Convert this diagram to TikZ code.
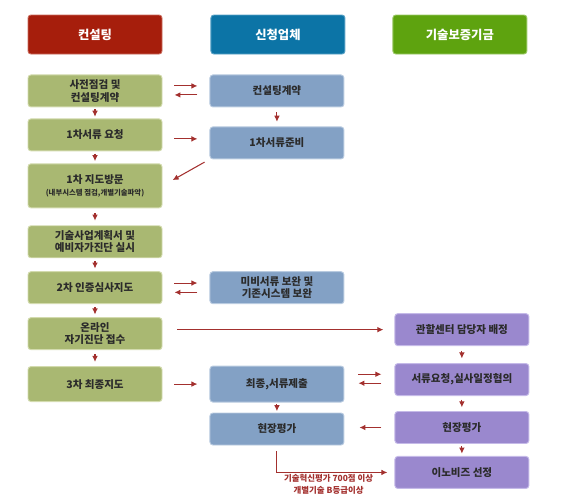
\documentclass[tikz,border=0pt]{standalone}
\usepackage{fontspec}
\setmainfont{Noto Sans CJK KR}
\usetikzlibrary{arrows.meta,positioning}

\definecolor{headred}{HTML}{A61E0C}
\definecolor{headredline}{HTML}{C96A5C}
\definecolor{headblue}{HTML}{0C74A6}
\definecolor{headblueline}{HTML}{5AA2C6}
\definecolor{headgreen}{HTML}{5EA30F}
\definecolor{headgreenline}{HTML}{9BC867}
\definecolor{consfill}{HTML}{A9B872}
\definecolor{consline}{HTML}{D3DBAE}
\definecolor{firmfill}{HTML}{83A1C5}
\definecolor{firmline}{HTML}{B9CBE0}
\definecolor{kibofill}{HTML}{9A88CE}
\definecolor{kiboline}{HTML}{C5BAE8}
\definecolor{arrowred}{HTML}{A3302E}
\definecolor{boxtext}{HTML}{2B2B2B}

\begin{document}
\begin{tikzpicture}[
  box/.style={draw, line width=0.8pt, rounded corners=2.5pt, align=center, minimum width=4.02cm, minimum height=0.96cm, inner sep=1pt, font=\fontsize{9}{10.5}\selectfont\bfseries, text=boxtext},
  cons/.style={box, fill=consfill, draw=consline},
  firm/.style={box, fill=firmfill, draw=firmline},
  kibo/.style={box, fill=kibofill, draw=kiboline},
  head/.style={box, minimum height=1.17cm, text=white, font=\fontsize{10.5}{12}\selectfont\bfseries},
  arrow/.style={-{Latex[length=1.8mm,width=1.7mm]}, draw=arrowred, line width=0.9pt},
  pad/.style={shorten <=#1, shorten >=#1},
  note/.style={align=center, text=arrowred, inner sep=1.5pt, font=\fontsize{7.2}{9.5}\selectfont\bfseries}
]
\useasboundingbox (0,0) rectangle (17.01,-15);

% column heads
\node[head, fill=headred, draw=headredline] (hcons) at (2.85,-1.035) {컨설팅};
\node[head, fill=headblue, draw=headblueline, right=1.44cm of hcons] (hfirm) {신청업체};
\node[head, fill=headgreen, draw=headgreenline, right=1.41cm of hfirm] (hkibo) {기술보증기금};

% consulting
\node[cons, below=0.6cm of hcons] (precheck) {사전점검 및\\컨설팅계약};
\node[cons, below=0.33cm of precheck] (docreq) {1차서류 요청};
\node[cons, below=0.36cm of docreq, minimum height=1.32cm] (visit) {1차 지도방문\\{\fontsize{6.3}{8}\selectfont(내부시스템 점검,개별기술파악)}};
\node[cons, below=0.51cm of visit] (plan) {기술사업계획서 및\\예비자가진단 실시};
\node[cons, below=0.39cm of plan] (review) {2차 인증심사지도};
\node[cons, below=0.39cm of review] (online) {온라인\\자기진단 접수};
\node[cons, below=0.48cm of online, minimum height=1.05cm] (final) {3차 최종지도};

% applicant
\node[firm, right=1.41cm of precheck] (contract) {컨설팅계약};
\node[firm, below=0.57cm of contract] (docprep) {1차서류준비};
\node[firm, right=1.41cm of review] (supplement) {미비서류 보완 및\\기존시스템 보완};
\node[firm, right=1.41cm of final, minimum height=1.08cm] (submit) {최종,서류제출};
\node[firm, below=0.30cm of submit] (fieldfirm) {현장평가};

% fund
\node[kibo, right=1.5cm of submit, yshift=0.135cm] (schedule) {서류요청,실사일정협의};
\node[kibo, above=0.51cm of schedule] (assign) {관할센터 담당자 배정};
\node[kibo, below=0.45cm of schedule] (fieldkibo) {현장평가};
\node[kibo, below=0.36cm of fieldkibo] (select) {이노비즈 선정};

% consulting flow
\draw[arrow, pad=0.05cm] (precheck) -- (docreq);
\draw[arrow, pad=0.065cm] (docreq) -- (visit);
\draw[arrow, pad=0.14cm] (visit) -- (plan);
\draw[arrow, pad=0.08cm] (plan) -- (review);
\draw[arrow, pad=0.08cm] (review) -- (online);
\draw[arrow, pad=0.125cm] (online) -- (final);

% applicant and fund flow
\draw[arrow, pad=0.14cm] (contract) -- (docprep);
\draw[arrow, pad=0.04cm] (submit) -- (fieldfirm);
\draw[arrow, pad=0.14cm] (assign) -- (schedule);
\draw[arrow, pad=0.11cm] (schedule) -- (fieldkibo);
\draw[arrow, pad=0.07cm] (fieldkibo) -- (select);

% across
\draw[arrow, pad=0.36cm] ([yshift=0.15cm]precheck.east) -- ([yshift=0.15cm]precheck.east -| contract.west);
\draw[arrow, pad=0.36cm] ([yshift=-0.12cm]precheck.east -| contract.west) -- ([yshift=-0.12cm]precheck.east);
\draw[arrow, pad=0.36cm] ([yshift=-0.12cm]docreq.east) -- ([yshift=-0.12cm]docreq.east -| docprep.west);
\draw[arrow, shorten <=0.17cm, shorten >=0.35cm] (docprep.south west) -- (visit.east);
\draw[arrow, pad=0.36cm] ([yshift=0.14cm]review.east) -- ([yshift=0.14cm]review.east -| supplement.west);
\draw[arrow, pad=0.36cm] ([yshift=-0.14cm]review.east -| supplement.west) -- ([yshift=-0.14cm]review.east);
\draw[arrow, shorten <=0.45cm, shorten >=0.33cm] (online.east |- assign.west) -- (assign.west);
\draw[arrow, pad=0.36cm] (final.east) -- (final.east -| submit.west);
\draw[arrow, shorten <=0.42cm, shorten >=0.39cm] ([yshift=0.16cm]schedule.west -| submit.east) -- ([yshift=0.16cm]schedule.west);
\draw[arrow, shorten <=0.39cm, shorten >=0.42cm] ([yshift=-0.11cm]schedule.west) -- ([yshift=-0.11cm]schedule.west -| submit.east);
\draw[arrow, shorten <=0.39cm, shorten >=0.45cm] (fieldkibo.west) -- (fieldkibo.west -| fieldfirm.east);
\draw[arrow, shorten <=0.18cm, shorten >=0.21cm] (fieldfirm.south) |- (select.west)
  node[note, below, pos=0.72] (grade) {기술혁신평가 700점 이상\\개별기술 B등급이상};
\end{tikzpicture}
\end{document}
